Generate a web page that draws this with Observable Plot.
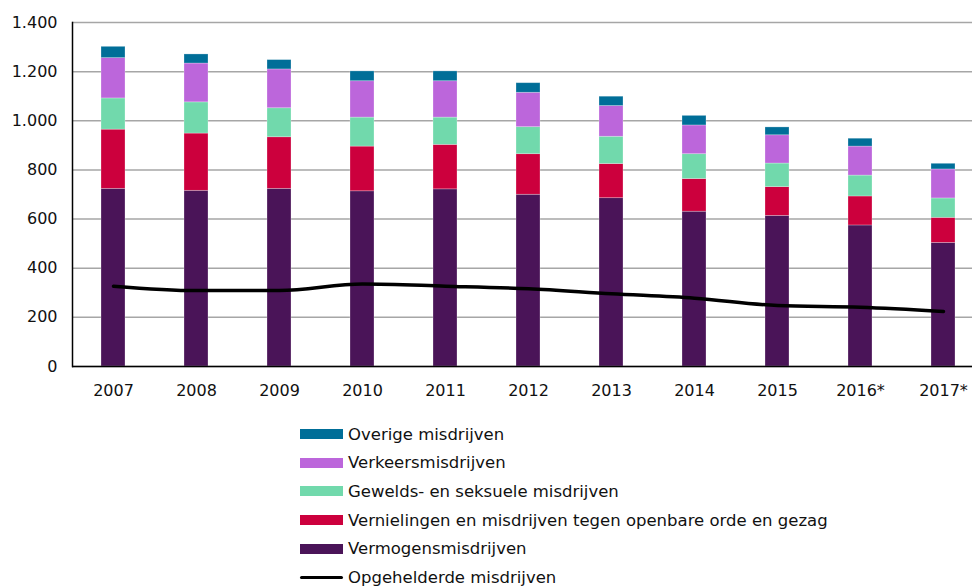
<!DOCTYPE html>
<html><head><meta charset="utf-8">
<script src="https://cdn.jsdelivr.net/npm/d3@7"></script>
<script src="https://cdn.jsdelivr.net/npm/@observablehq/plot@0.6"></script>
<style>
body{margin:0;background:#fff;overflow:hidden;font-family:"DejaVu Sans",Verdana,sans-serif;}
#wrap{position:relative;width:972px;height:588px;}
.row{position:absolute;left:300px;height:28px;display:flex;align-items:center;font-size:16.5px;color:#111;white-space:nowrap;}
.sw{width:43px;height:10px;margin-right:5px;}
.ln{width:43px;height:3.5px;margin-right:5px;background:#000;border-radius:2px;}
</style>
</head><body>
<div id="wrap"><div id="chart"></div><div id="legend"></div></div>
<script>
const years = ["2007","2008","2009","2010","2011","2012","2013","2014","2015","2016*","2017*"];
const categories = ["Vermogensmisdrijven","Vernielingen en misdrijven tegen openbare orde en gezag","Gewelds- en seksuele misdrijven","Verkeersmisdrijven","Overige misdrijven"];
const colors = ["#4a1458","#cc003d","#71d9ac","#bc66db","#006e98"];
const vermogens    = [723,715,723,713,721,699,685,630,613,574,503];
const vernielingen = [241,233,210,182,181,165,139,133,117,118,102];
const gewelds      = [127,127,118,118,111,110,111,101, 96, 85, 79];
const verkeers     = [164,158,158,148,148,140,125,117,115,118,118];
const overige      = [ 46, 37, 38, 40, 40, 39, 38, 39, 32, 32, 23];
const opgehelderd  = [327,309,309,336,327,316,296,278,248,241,224];
const yTicks = [0,200,400,600,800,1000,1200,1400];
const lineLabel = "Opgehelderde misdrijven";

const series = [vermogens, vernielingen, gewelds, verkeers, overige];
const table = categories.flatMap((c, i) => years.map((y, j) => ({year: y, cat: c, value: series[i][j]})));
const lineData = years.map((y, j) => ({year: y, value: opgehelderd[j]}));
const nl = d3.formatLocale({decimal: ",", thousands: ".", grouping: [3], currency: ["€", ""]});
const fmt = nl.format(",");

const chart = Plot.plot({
  width: 972, height: 410,
  marginLeft: 72, marginRight: 0, marginTop: 22, marginBottom: 44,
  style: {fontSize: "16px", fontFamily: "'DejaVu Sans', Verdana, sans-serif", color: "#111", background: "#fff"},
  x: {domain: years, range: [72, 985], paddingInner: 0.71, paddingOuter: 0.35, label: null},
  y: {domain: [0, 1400], label: null},
  color: {domain: categories, range: colors},
  marks: [
    Plot.gridY(yTicks, {stroke: "#a6a6a6", strokeOpacity: 1, strokeWidth: 1.5}),
    Plot.barY(table, Plot.stackY({x: "year", y: "value", fill: "cat", order: categories, stroke: "#fff", strokeOpacity: 0.35, strokeWidth: 0.75})),
    Plot.line(lineData, {x: "year", y: "value", stroke: "#000", strokeWidth: 3.5, curve: "monotone-x"}),
    Plot.ruleY([0], {stroke: "#000", strokeWidth: 1.5}),
    Plot.frame({anchor: "left", stroke: "#000", strokeWidth: 1.5}),
    Plot.axisY(yTicks, {tickSize: 0, tickPadding: 15, tickFormat: fmt, label: null, fill: "#111"}),
    Plot.axisX({tickSize: 0, tickPadding: 18, label: null, fill: "#111"})
  ]
});
document.getElementById("chart").appendChild(chart);

const legend = document.getElementById("legend");
const items = [...categories].reverse().map(c => ({label: c, color: colors[categories.indexOf(c)]}));
items.forEach((it, i) => {
  const r = document.createElement("div");
  r.className = "row";
  r.style.top = (420 + i * 28.7) + "px";
  r.innerHTML = `<div class="sw" style="background:${it.color}"></div><span>${it.label}</span>`;
  legend.appendChild(r);
});
const r = document.createElement("div");
r.className = "row";
r.style.top = (420 + items.length * 28.7) + "px";
r.innerHTML = `<div class="ln"></div><span>${lineLabel}</span>`;
legend.appendChild(r);
</script>
</body></html>
